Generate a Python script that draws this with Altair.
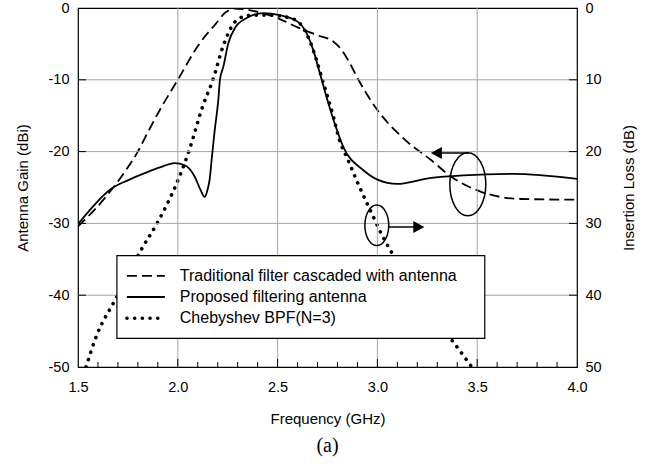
import altair as alt
import pandas as pd

# ---- measured curves -------------------------------------------------------
# Traditional filter cascaded with antenna: gain (dBi) vs frequency (GHz)
trad_f = [1.50, 1.58, 1.66, 1.74, 1.80, 1.85, 1.91, 2.00, 2.11, 2.19, 2.24, 2.28,
          2.34, 2.42, 2.50, 2.60, 2.70, 2.78, 2.82, 2.86, 2.905, 3.00, 3.14, 3.27,
          3.37, 3.52, 3.72, 4.00]
trad_g = [-30.4, -28.2, -25.6, -22.6, -20.0, -17.3, -14.2, -10.0, -4.9, -2.2, -0.6, -0.1,
          -0.2, -0.7, -1.4, -2.7, -3.8, -4.7, -5.8, -7.6, -10.0, -14.2, -18.4, -21.2,
          -23.5, -25.6, -26.6, -26.7]

# Proposed filtering antenna: gain (dBi) vs frequency (GHz)
prop_f = [1.50, 1.58, 1.62, 1.665, 1.75, 1.835, 1.91, 1.985, 2.035, 2.085, 2.115, 2.134,
          2.15, 2.16, 2.17, 2.185, 2.203, 2.211, 2.228, 2.253, 2.286, 2.345, 2.43,
          2.51, 2.60, 2.645, 2.678, 2.712, 2.76, 2.83, 2.93, 3.00, 3.10, 3.26, 3.43,
          3.68, 4.00]
prop_g = [-30.1, -27.5, -26.3, -25.2, -24.0, -23.0, -22.2, -21.6, -21.9, -23.5, -25.4, -26.3,
          -25.2, -23.8, -21.0, -17.0, -12.8, -10.0, -8.2, -4.9, -2.8, -1.4, -0.7,
          -1.0, -1.9, -3.5, -5.8, -9.1, -13.8, -19.4, -22.6, -23.9, -24.5, -23.7, -23.3,
          -23.1, -23.8]

# Chebyshev BPF (N=3): insertion loss (dB) vs frequency (GHz)
cheb_f = [1.54, 1.595, 1.685, 1.75, 1.816, 1.90, 1.99, 2.055, 2.127, 2.176, 2.226,
          2.26, 2.31, 2.377, 2.46, 2.55, 2.61, 2.66, 2.73, 2.78, 2.81, 2.85, 2.91,
          2.98, 3.01, 3.07, 3.20, 3.30, 3.36, 3.42, 3.47]
cheb_il = [50.0, 45.5, 40.7, 37.2, 33.7, 29.8, 24.7, 20.0, 13.5, 10.0, 5.4,
           3.1, 1.4, 1.0, 1.0, 1.3, 2.1, 4.5, 10.5, 15.2, 18.4, 21.0, 24.9,
           29.1, 30.9, 34.0, 39.8, 43.8, 45.8, 48.0, 49.9]

# ---- axes ------------------------------------------------------------------
x_major = [1.5, 2.0, 2.5, 3.0, 3.5, 4.0]
x_minor = [1.6, 1.7, 1.8, 1.9, 2.1, 2.2, 2.3, 2.4, 2.6, 2.7, 2.8, 2.9,
           3.1, 3.2, 3.3, 3.4, 3.6, 3.7, 3.8, 3.9]
gain_ticks = [-50, -40, -30, -20, -10, 0]
loss_ticks = [0, 10, 20, 30, 40, 50]

# ---- legend ----------------------------------------------------------------
legend_labels = ["Traditional filter cascaded with antenna",
                 "Proposed filtering antenna",
                 "Chebyshev BPF(N=3)"]

W, H = 499, 359
FONT = "Liberation Sans"

xscale = alt.Scale(domain=[1.5, 4.0], nice=False)
gscale = alt.Scale(domain=[-50, 0], nice=False)

DASHED = dict(strokeDash=[10, 5], strokeWidth=1.8)
SOLID = dict(strokeWidth=1.8)
DOTTED = dict(strokeDash=[0.1, 7.6], strokeCap="round", strokeWidth=3.6)
GRID = dict(color="#a6a6a6", strokeWidth=1)

trad_df = pd.DataFrame({"f": trad_f, "gain": trad_g})
prop_df = pd.DataFrame({"f": prop_f, "gain": prop_g})
cheb_df = pd.DataFrame({"f": cheb_f, "il": cheb_il})


def X(field="f:Q"):
    return alt.X(field, scale=xscale)


def Y(field="gain:Q"):
    return alt.Y(field, scale=gscale)


# light grid at the inner major ticks
vgrid_df = pd.DataFrame({"f": x_major[1:-1]})
hgrid_df = pd.DataFrame({"gain": gain_ticks[1:-1]})
grid = [
    alt.Chart(vgrid_df).mark_rule(**GRID).encode(x=X(), y=alt.value(0), y2=alt.value(H)),
    alt.Chart(hgrid_df).mark_rule(**GRID).encode(y=Y(), x=alt.value(0), x2=alt.value(W)),
]

# main gain traces (left axis); this layer carries the shared axis settings
trad = alt.Chart(trad_df).mark_line(color="black", interpolate="monotone", clip=True, **DASHED).encode(
    x=alt.X("f:Q", scale=xscale,
            axis=alt.Axis(values=x_major, format=".1f", ticks=False, domain=False,
                          grid=False, labelFlush=False, labelPadding=13,
                          title="Frequency (GHz)",
                          titleX=W / 2, titleY=56, titleBaseline="alphabetic")),
    y=alt.Y("gain:Q", scale=gscale,
            axis=alt.Axis(values=gain_ticks, labelExpr="'' + datum.value", ticks=False,
                          domain=False, grid=False, labelFlush=False, labelPadding=9,
                          orient="left",
                          title="Antenna Gain (dBi)", titleAngle=270, titleX=-56,
                          titleY=H / 2, titleBaseline="middle", titleAlign="center")),
)
prop = alt.Chart(prop_df).mark_line(color="black", interpolate="monotone", clip=True, **SOLID).encode(
    x=X(), y=Y(),
)

# inward tick marks
minor_df = pd.DataFrame({"f": x_minor})
major_df = pd.DataFrame({"f": x_major[1:-1]})
gt_df = pd.DataFrame({"gain": gain_ticks[1:-1]})
ticks = [
    alt.Chart(minor_df).mark_rule(color="black", strokeWidth=1).encode(
        x=X(), y=alt.value(H), y2=alt.value(H - 5)),
    alt.Chart(major_df).mark_rule(color="black", strokeWidth=1).encode(
        x=X(), y=alt.value(H), y2=alt.value(H - 8)),
    alt.Chart(gt_df).mark_rule(color="black", strokeWidth=1).encode(
        y=Y(), x=alt.value(0), x2=alt.value(8)),
    alt.Chart(gt_df).mark_rule(color="black", strokeWidth=1).encode(
        y=Y(), x=alt.value(W - 8), x2=alt.value(W)),
]

# legend box with line samples
box_df = pd.DataFrame({"f": [1.695], "f2": [3.538], "gain": [-34.5], "gain2": [-46.0]})
box = alt.Chart(box_df).mark_rect(fill="white", stroke="black", strokeWidth=1.2).encode(
    x=X(), x2="f2:Q", y=Y(), y2="gain2:Q",
)
row_y = [-37.3, -40.25, -43.2]
legend_layers = [box]
for style, yv, lab in zip([DASHED, SOLID, DOTTED], row_y, legend_labels):
    sdf = pd.DataFrame({"f": [1.745], "f2": [1.935], "gain": [yv]})
    legend_layers.append(
        alt.Chart(sdf).mark_rule(color="black", **style).encode(x=X(), x2="f2:Q", y=Y()))
    tdf = pd.DataFrame({"f": [2.01], "gain": [yv], "label": [lab]})
    legend_layers.append(
        alt.Chart(tdf).mark_text(align="left", baseline="middle", fontSize=16,
                                 font=FONT, color="black").encode(
            x=X(), y=Y(), text="label:N"))


# annotation ellipses and arrows
def ellipse_path(rx):
    k = 0.5523
    return (f"M {rx} 0 C {rx} {k} {k * rx} 1 0 1 C {-k * rx} 1 {-rx} {k} {-rx} 0 "
            f"C {-rx} {-k} {-k * rx} -1 0 -1 C {k * rx} -1 {rx} {-k} {rx} 0 Z")


ARROW_LEFT = "M -1 0 L 1 -1.1 L 1 1.1 Z"
ARROW_RIGHT = "M 1 0 L -1 -1.1 L -1 1.1 Z"

ann = []
for fc, gc, h, ratio in [(3.453, -24.55, 63, 0.571), (2.997, -30.27, 40.5, 0.59)]:
    edf = pd.DataFrame({"f": [fc], "gain": [gc]})
    ann.append(alt.Chart(edf).mark_point(shape=ellipse_path(ratio), size=h * h, filled=False,
                                         stroke="black", strokeWidth=1.5, opacity=1).encode(
        x=X(), y=Y()))

for f1, f2, gy, head_f, shape in [(3.29, 3.458, -20.2, 3.2955, ARROW_LEFT),
                                  (3.057, 3.21, -30.5, 3.2075, ARROW_RIGHT)]:
    adf = pd.DataFrame({"f": [f1], "f2": [f2], "gain": [gy]})
    ann.append(alt.Chart(adf).mark_rule(color="black", strokeWidth=1.5).encode(
        x=X(), x2="f2:Q", y=Y()))
    hdf = pd.DataFrame({"f": [head_f], "gain": [gy]})
    ann.append(alt.Chart(hdf).mark_point(shape=shape, size=121, filled=True, fill="black",
                                         strokeWidth=0, opacity=1).encode(x=X(), y=Y()))

gain_group = alt.layer(trad, *grid, prop, *ticks, *legend_layers, *ann)

# Chebyshev response on the insertion-loss axis (right)
cheb = alt.Chart(cheb_df).mark_line(color="black", interpolate="monotone", clip=True, **DOTTED).encode(
    x=X(),
    y=alt.Y("il:Q", scale=alt.Scale(domain=[0, 50], reverse=True, nice=False),
            axis=alt.Axis(orient="right", values=loss_ticks, ticks=False, domain=False,
                          grid=False, labelFlush=False, labelPadding=8,
                          title="Insertion Loss (dB)",
                          titleAngle=270, titleX=51, titleY=H / 2,
                          titleBaseline="middle", titleAlign="center")),
)

chart = alt.layer(cheb, gain_group).resolve_scale(y="independent").properties(
    width=W, height=H,
    padding={"left": 78, "top": 8, "right": 75, "bottom": 100},
    autosize=alt.AutoSizeParams(type="none"),
    title=alt.TitleParams("(a)", orient="bottom", font="Liberation Serif", fontSize=20,
                          fontWeight="normal", color="black", offset=10),
).configure_view(stroke="black", strokeWidth=1.2).configure_axis(
    labelFont=FONT, labelFontSize=14.5, labelColor="black",
    titleFont=FONT, titleFontSize=15, titleFontWeight="normal", titleColor="black",
)

chart.save("out.html", embed_options={"renderer": "svg", "actions": False})
